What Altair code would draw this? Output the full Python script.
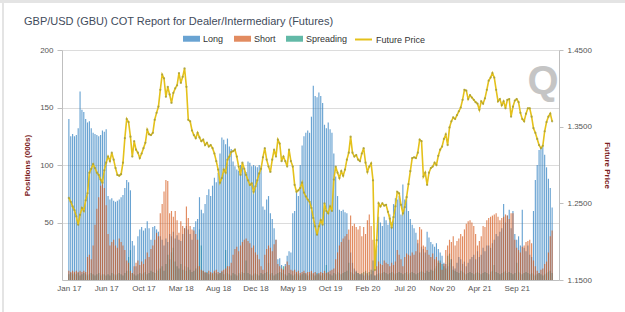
import json

import altair as alt
import pandas as pd

# Weekly COT positions (thousands of contracts) and GBP/USD future settle price
series_names = ["Long", "Short", "Spreading"]
series_colors = ["#2f7fc1", "#d65a1c", "#17987e"]
draw_order = ["Spreading", "Long", "Short"]
price_name = "Future Price"
price_color = "#e4c11b"
chart_title = "GBP/USD (GBU) COT Report for Dealer/Intermediary (Futures)"

tick_every = 20
tick_labels = ["Jan 17", "Jun 17", "Oct 17", "Mar 18", "Aug 18", "Dec 18", "May 19",
               "Oct 19", "Feb 20", "Jul 20", "Nov 20", "Apr 21", "Sep 21"]

long_pos = [
    140, 125, 127, 125, 126, 132, 164, 148, 146, 140, 137, 138, 132, 128, 127, 126, 125, 126, 130, 129, 131,
    73, 70, 71, 69, 68, 69, 70, 72, 74, 80, 87, 85, 78,
    34, 30, 12, 38, 44, 46, 43, 45,
    51, 45, 35, 46, 47, 44, 42, 38, 35, 30, 36, 33, 40, 38, 42, 36, 39, 35, 34, 40,
    45, 47, 44, 40, 35, 46, 51, 53, 72, 61, 58, 66, 74, 79, 73, 82, 89, 85, 93, 110,
    124, 122, 118, 123,
    116, 114, 103, 99, 96, 95, 100, 98, 96, 94, 103, 102, 99, 100, 99, 98, 100, 99, 64, 61,
    70, 73, 58, 53, 45, 35, 18, 19, 13, 9, 14, 21, 25, 24, 58, 60, 76, 73, 100, 117,
    125, 128, 130, 128,
    142, 169, 160, 159, 163, 160, 154, 135, 132, 137, 131, 128, 110, 90, 73, 61, 60, 61, 59, 58,
    35, 24, 15, 10, 8, 6, 5, 5, 4, 6, 5, 4, 5, 8,
    4, 30, 55, 50, 47, 55, 52, 48, 57, 50, 66, 71, 70, 73, 57, 83, 70, 73, 60, 53,
    48, 45, 41, 32, 24, 29, 27, 24, 42, 37, 33, 31, 29, 32, 27, 24, 21, 15,
    14, 12, 15, 18, 12, 10, 15, 20, 18, 14, 16, 12, 15, 18, 20, 22, 18, 25, 20, 22, 28, 25, 30,
    30, 28, 32, 35, 40, 38, 42, 45, 66, 50, 56, 61, 45, 60, 40, 35, 38, 30, 61, 28,
    25, 30, 22, 20, 60, 87, 100, 113, 115, 116, 109, 98, 88, 80, 63,
]

short_pos = [
    8, 7, 8, 7, 8, 7, 8, 7, 8, 7,
    20, 22, 18, 30, 48, 62, 72, 82, 86, 80, 65,
    40, 30, 33, 35, 30, 28, 36, 33, 30, 26, 17, 15, 8, 6, 12, 15, 17, 13, 16, 14,
    18, 24, 20, 27, 30, 35, 41, 38, 58, 66, 77, 87, 86, 58, 60, 55, 60, 52, 41, 51,
    47, 45, 64, 54, 47, 44, 43, 40, 35, 12, 9, 8,
    7, 6, 8, 7, 6, 8, 9, 7, 6, 8, 9, 10, 12, 12, 15, 22, 27, 29, 25, 30,
    33, 35, 36, 34, 32, 28, 30, 24, 22, 18, 12, 9, 22, 27, 30, 28, 25, 31, 35, 14,
    12, 10, 9, 12, 16, 13, 9, 8, 9, 7, 8, 6, 7, 8, 6, 7, 7, 8,
    6, 7, 5, 6, 7, 6, 8, 6, 7, 8, 9, 10, 18, 24, 30, 33, 36, 38, 40, 44,
    56, 47, 49, 46, 44, 47, 38, 46, 40, 52, 57, 47, 35, 10, 12, 16, 14, 13, 17, 15,
    14, 12, 15, 13, 16,
    26, 22, 18, 12, 20, 23, 22, 21, 24, 22, 25, 35, 46, 44, 30, 29, 26, 22, 20, 23,
    18, 20, 17, 15, 9, 14, 26, 30, 35, 33, 38, 30, 34, 36, 40, 38, 44, 49, 51, 52,
    50, 47, 40, 30, 34, 38, 47, 46, 52, 54, 55, 56, 57, 58, 55, 52, 54, 55, 57, 56,
    53, 58, 58, 35, 28, 26, 24, 29, 30, 33, 34, 35, 32, 17, 12, 8, 6, 9, 10, 14,
    16, 24, 38, 43,
]

spreading_pos = [
    5, 6, 5, 6, 5, 6, 4, 5, 6, 5, 4, 5, 6, 5, 4, 5, 6, 4, 5, 5,
    4, 5, 4, 6, 5, 4, 5, 6, 5, 4, 6, 8, 20, 26, 6, 5, 4, 5, 6, 5,
    6, 7, 5, 6, 8, 7, 6, 9, 8, 10, 12, 8, 14, 22, 18, 24, 28, 16, 12, 10,
    14, 9, 12, 8, 11, 9, 7, 8, 10, 12, 44, 30, 8, 6, 7, 5, 6, 5, 7, 6,
    5, 6, 7, 5, 26, 6, 5, 4, 6, 5, 4, 6, 5, 7, 6, 17, 6, 5, 4, 5,
    6, 5, 4, 6, 5, 6, 7, 15, 5, 6, 4, 5, 6, 7, 6, 12, 5, 4, 6, 5,
    4, 5, 6, 5, 4, 5, 6, 5, 4, 5, 6, 5, 4, 6, 5, 4, 6, 5, 13, 6,
    5, 4, 6, 5, 7, 6, 5, 6, 7, 8, 15, 7, 6, 5, 7, 6, 5, 6, 7, 8,
    6, 7, 9, 17, 4, 5, 6, 5, 6, 7, 6, 5, 6, 7, 6, 5, 6, 7, 6, 5,
    6, 7, 5, 6, 7, 6, 5, 6, 7, 8, 7, 6, 8, 7, 9, 8, 10, 12, 15, 17,
    14, 12, 10, 21, 23, 18, 9, 8, 7, 6, 8, 7, 6, 5, 6, 7, 6, 5, 6, 7,
    6, 5, 6, 7, 6, 5, 7, 8, 13, 7, 6, 5, 6, 7, 8, 6, 7, 6, 5, 6,
    15, 7, 6, 5, 6, 7, 6, 5, 6, 5, 4, 5, 6, 5, 4, 5, 6, 7, 8, 6,
]

future_price = [
    1.257, 1.252, 1.246, 1.241, 1.233, 1.222, 1.235, 1.244, 1.240, 1.254,
    1.263, 1.290, 1.295, 1.301, 1.296, 1.290, 1.287, 1.281, 1.277, 1.293,
    1.303, 1.311, 1.305, 1.316, 1.307, 1.296, 1.287, 1.286, 1.288, 1.303,
    1.335, 1.360, 1.356, 1.337, 1.311, 1.331, 1.320, 1.316, 1.309, 1.315,
    1.322, 1.329, 1.346, 1.340, 1.339, 1.342, 1.359, 1.368, 1.376, 1.398,
    1.418, 1.413, 1.389, 1.402, 1.392, 1.381, 1.394, 1.400, 1.404, 1.420,
    1.407, 1.415, 1.426, 1.402, 1.359, 1.357, 1.345, 1.339, 1.335, 1.342,
    1.336, 1.331, 1.333, 1.326, 1.329, 1.324, 1.326, 1.322, 1.315, 1.305,
    1.294, 1.277, 1.283, 1.294, 1.290, 1.307, 1.311, 1.317, 1.318, 1.320,
    1.311, 1.298, 1.287, 1.303, 1.295, 1.287, 1.280, 1.274, 1.276, 1.265,
    1.272, 1.280, 1.289, 1.295, 1.310, 1.322, 1.307, 1.298, 1.291, 1.307,
    1.320, 1.311, 1.333, 1.328, 1.305, 1.311, 1.305, 1.298, 1.320, 1.305,
    1.298, 1.274, 1.265, 1.267, 1.270, 1.277, 1.264, 1.259, 1.255, 1.252,
    1.244, 1.231, 1.220, 1.209, 1.220, 1.228, 1.222, 1.250, 1.240, 1.237,
    1.246, 1.240, 1.281, 1.298, 1.290, 1.283, 1.292, 1.286, 1.294, 1.307,
    1.316, 1.337, 1.316, 1.311, 1.313, 1.307, 1.305, 1.315, 1.322, 1.303,
    1.291, 1.298, 1.302, 1.280, 1.163, 1.202, 1.250, 1.246, 1.250, 1.247,
    1.248, 1.239, 1.230, 1.218, 1.232, 1.246, 1.265, 1.263, 1.248, 1.237,
    1.245, 1.258, 1.275, 1.292, 1.309, 1.310, 1.309, 1.316, 1.333, 1.331,
    1.285, 1.290, 1.274, 1.290, 1.296, 1.298, 1.303, 1.300, 1.312, 1.320,
    1.324, 1.334, 1.340, 1.326, 1.349, 1.357, 1.362, 1.360, 1.365, 1.370,
    1.375, 1.385, 1.398, 1.397, 1.386, 1.391, 1.388, 1.385, 1.382, 1.380,
    1.372, 1.383, 1.380, 1.387, 1.398, 1.410, 1.414, 1.420, 1.414, 1.398,
    1.383, 1.386, 1.378, 1.383, 1.374, 1.385, 1.386, 1.363, 1.376, 1.384,
    1.386, 1.382, 1.368, 1.360, 1.357, 1.367, 1.374, 1.374, 1.363, 1.348,
    1.342, 1.334, 1.326, 1.322, 1.325, 1.344, 1.356, 1.363, 1.367, 1.357,
]

n_weeks = len(future_price)
table = pd.DataFrame({
    "week": list(range(n_weeks)),
    "Long": long_pos,
    "Short": short_pos,
    "Spreading": spreading_pos,
    "price": future_price,
    "price_series": [price_name] * n_weeks,
})

FONT = "Liberation Sans"
AXIS_GREY = "#bfbfbf"
LABEL_GREY = "#555555"
AXIS_TITLE_RED = "#7b2020"

x_enc = alt.X(
    "week:Q",
    scale=alt.Scale(domain=[-1, n_weeks], nice=False, zero=False),
    axis=alt.Axis(
        values=list(range(0, n_weeks, tick_every)),
        labelExpr=f"{json.dumps(tick_labels)}[round(datum.value / {tick_every})]",
        title=None, grid=False, ticks=False, labelOverlap=False,
        domainColor=AXIS_GREY, labelFontSize=8, labelColor=LABEL_GREY, labelPadding=4,
    ),
)

# rectangular swatch for the bar legend
swatch = "M-1,-0.35H1V0.35H-1Z"

# overlapping (unstacked) columns; spreading sits underneath the translucent long/short bars
bars = alt.Chart(table).transform_fold(
    draw_order, as_=["series", "value"]
).mark_bar(size=1.15).encode(
    x=x_enc,
    y=alt.Y(
        "value:Q", stack=None,
        scale=alt.Scale(domain=[0, 200], nice=False),
        axis=alt.Axis(
            values=[50, 100, 150, 200], title="Positions (000s)",
            titleFontSize=8, titleFontWeight="bold", titleColor=AXIS_TITLE_RED, titlePadding=8,
            labelFontSize=8, labelColor=LABEL_GREY, labelPadding=4,
            tickSize=5, tickColor=AXIS_GREY, domainColor=AXIS_GREY, gridColor="#dcdcdc",
        ),
    ),
    color=alt.Color(
        "series:N",
        scale=alt.Scale(domain=series_names, range=series_colors),
        legend=alt.Legend(
            orient="none", legendX=121, legendY=-20, direction="horizontal", title=None,
            symbolType=swatch, symbolSize=289, symbolStrokeWidth=0, symbolOpacity=1,
            labelFontSize=9, labelColor="#333333", labelOffset=3, columnPadding=10,
        ),
    ),
    opacity=alt.Opacity(
        "series:N", scale=alt.Scale(domain=series_names, range=[0.72, 0.68, 1.0]), legend=None
    ),
)

price_line = alt.Chart(table).mark_line(strokeWidth=1.6).encode(
    x=x_enc,
    y=alt.Y(
        "price:Q",
        scale=alt.Scale(domain=[1.15, 1.45], nice=False, zero=False),
        axis=alt.Axis(
            orient="right", values=[1.15, 1.2, 1.25, 1.3, 1.35, 1.4, 1.45], format=".4f",
            title="Future Price", titleFontSize=8, titleFontWeight="bold",
            titleColor=AXIS_TITLE_RED, titlePadding=11,
            labelFontSize=8, labelColor=LABEL_GREY, labelPadding=4,
            tickSize=4, tickColor=AXIS_GREY, domainColor=AXIS_GREY, grid=False,
        ),
    ),
    stroke=alt.Stroke(
        "price_series:N",
        scale=alt.Scale(domain=[price_name], range=[price_color]),
        legend=alt.Legend(
            orient="none", legendX=292, legendY=-20, direction="horizontal", title=None,
            symbolType="stroke", symbolSize=289, symbolStrokeWidth=2,
            labelFontSize=9, labelColor="#333333", labelOffset=3,
        ),
    ),
)

price_points = alt.Chart(table).mark_circle(size=5, color="#a39c38", opacity=0.8).encode(
    x=x_enc,
    y=alt.Y("price:Q"),
)

price_layer = alt.layer(price_line, price_points)

# chart heading, left aligned above the legend
heading = alt.Chart(pd.DataFrame({"heading": [chart_title]})).mark_text(
    font=FONT, fontSize=11, color="#3f4b5b", align="left", baseline="alphabetic"
).encode(text="heading:N", x=alt.value(-38), y=alt.value(-25))

# site logo in the upper right of the plot
logo = alt.Chart(pd.DataFrame({"logo": ["Q"]})).mark_text(
    font=FONT, fontSize=40, fontWeight="bold", color="#bcbcbc", opacity=0.85
).encode(text="logo:N", x=alt.value(481), y=alt.value(32))

# panel frame around the widget
frame = pd.DataFrame({"k": [0]})
top_band = alt.Chart(frame).mark_rect(color="#e4e4e4").encode(
    x=alt.value(-62), x2=alt.value(563), y=alt.value(-50), y2=alt.value(-47)
)
left_edge = alt.Chart(frame).mark_rule(color="#d2d2d2", strokeWidth=1.2).encode(
    x=alt.value(-59), y=alt.value(-47), y2=alt.value(262)
)

chart = alt.layer(bars, price_layer, heading, logo, top_band, left_edge).resolve_scale(
    y="independent"
).properties(
    width=497,
    height=230,
    autosize=alt.AutoSizeParams(type="none"),
    padding={"left": 62, "top": 50, "right": 66, "bottom": 32},
).configure(
    font=FONT, background="white"
).configure_view(
    stroke=None
)

chart.save("out.html", embed_options={"renderer": "svg", "actions": False})
